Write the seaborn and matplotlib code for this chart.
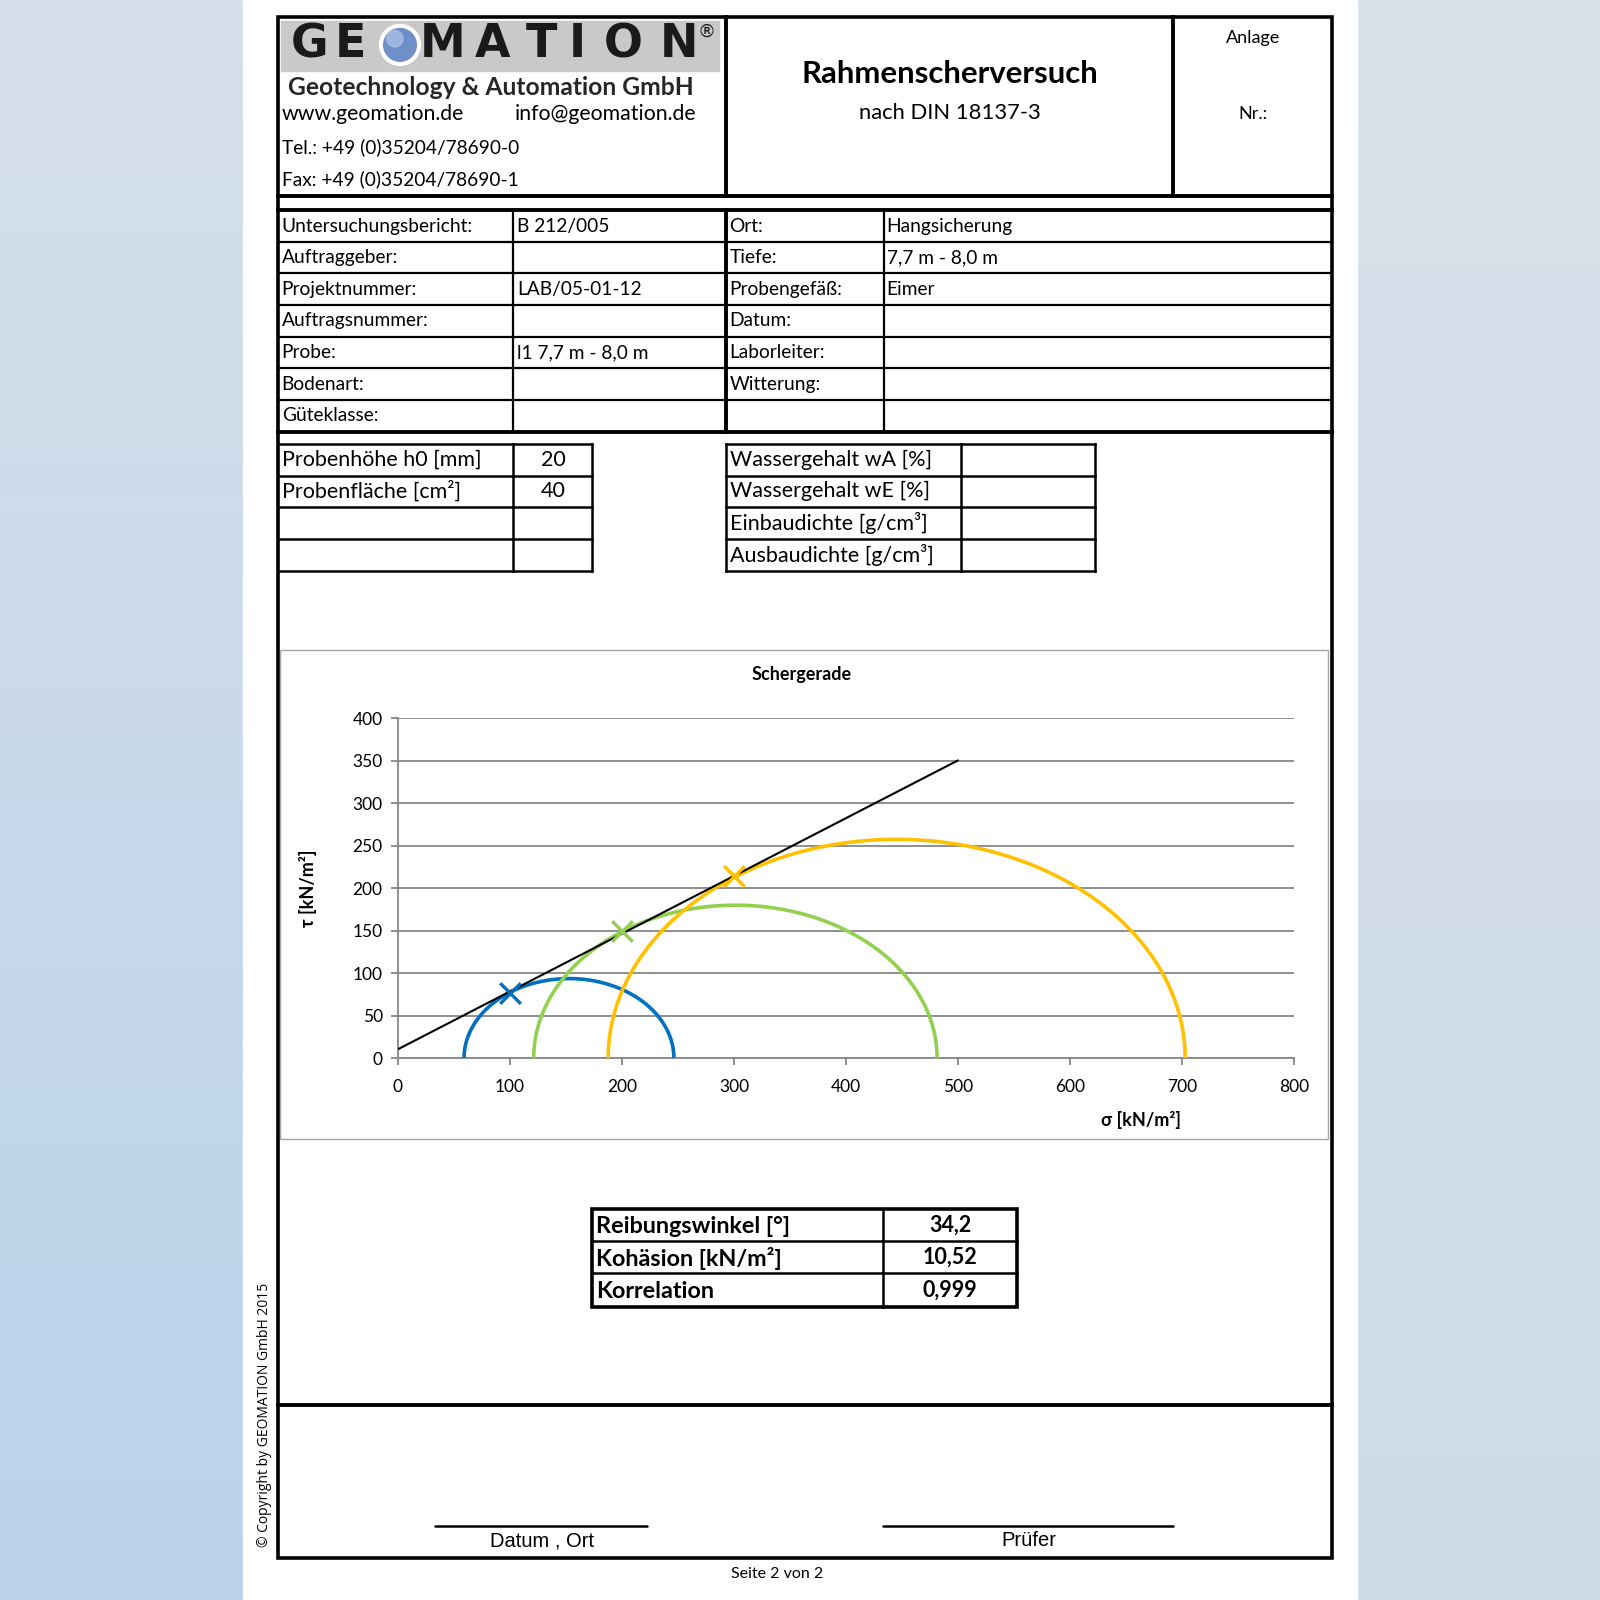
import numpy as np
import pandas as pd
import matplotlib
matplotlib.use("Agg")
import matplotlib.pyplot as plt
from matplotlib.patches import Rectangle, Circle
import seaborn as sns

# ---------------- data ----------------
probe_names = ["Probe 1", "Probe 2", "Probe 3"]
circle_colors = ["#0070C0", "#92D050", "#FFC000"]
circle_centers = [152.7, 301.3, 445.3]     # sigma centre of Mohr circles [kN/m²]
circle_radii = [93.7, 180.1, 257.6]        # radii [kN/m²]
fail_sigma = [100, 200, 300]               # normal stress at failure
fail_tau = [77, 150, 214]                  # shear stress at failure
line_sigma = [0, 500]                      # Schergerade
line_tau = [10.5, 350.5]
x_ticks = [0, 100, 200, 300, 400, 500, 600, 700, 800]
y_ticks = [0, 50, 100, 150, 200, 250, 300, 350, 400]

info_left_labels = ["Untersuchungsbericht:", "Auftraggeber:", "Projektnummer:", "Auftragsnummer:",
                    "Probe:", "Bodenart:", "Güteklasse:"]
info_left_values = ["B 212/005", "", "LAB/05-01-12", "", "l1 7,7 m - 8,0 m", "", ""]
info_right_labels = ["Ort:", "Tiefe:", "Probengefäß:", "Datum:", "Laborleiter:", "Witterung:", ""]
info_right_values = ["Hangsicherung", "7,7 m - 8,0 m", "Eimer", "", "", "", ""]
sample_labels = ["Probenhöhe h0 [mm]", "Probenfläche [cm²]", "", ""]
sample_values = ["20", "40", "", ""]
water_labels = ["Wassergehalt wA [%]", "Wassergehalt wE [%]", "Einbaudichte [g/cm³]", "Ausbaudichte [g/cm³]"]
result_labels = ["Reibungswinkel [°]", "Kohäsion [kN/m²]", "Korrelation"]
result_values = ["34,2", "10,52", "0,999"]

# ---------------- setup ----------------
sns.set_theme(style="white")
plt.rcParams["font.family"] = ["Lato", "DejaVu Sans"]

W = 1568.0
fig = plt.figure(figsize=(16, 16), dpi=100)
bg = fig.add_axes([0, 0, 1, 1])
bg.set_xlim(0, W)
bg.set_ylim(W, 0)
bg.axis("off")

# background panels (gradients)
def grad(x0, x1, c_top, c_bot):
    t = np.linspace(0, 1, 256)[:, None]
    c0 = np.array(matplotlib.colors.to_rgb(c_top))
    c1 = np.array(matplotlib.colors.to_rgb(c_bot))
    img = (1 - t)[..., None] * c0 + t[..., None] * c1
    img = np.repeat(img, 2, axis=1)
    bg.imshow(img, extent=[x0, x1, W, 0], aspect="auto", zorder=0)

grad(0, 238, "#d6e0ea", "#bad2ea")
grad(1330, W, "#d9e1ea", "#cddbe8")
bg.add_patch(Rectangle((238, 0), 1330 - 238, W, color="white", zorder=0.5))
bg.set_xlim(0, W)
bg.set_ylim(W, 0)

def hl(y, x0, x1, lw=1.6):
    bg.plot([x0, x1], [y, y], color="black", lw=lw, solid_capstyle="projecting", zorder=3)

def vl(x, y0, y1, lw=1.6):
    bg.plot([x, x], [y0, y1], color="black", lw=lw, solid_capstyle="projecting", zorder=3)

def tx(x, y, s, size, ha="left", weight="normal", family=None, color="black", **kw):
    k = dict(fontsize=size, ha=ha, va="center", weight=weight, color=color, zorder=4)
    if family is not None:
        k["family"] = family
    k.update(kw)
    bg.text(x, y, s, **k)

# ---------------- outer frame ----------------
L, R, TOP, BOT = 272, 1305, 17, 1527
bg.add_patch(Rectangle((L, TOP), R - L, BOT - TOP, fill=False, lw=2.6, ec="black", zorder=3))

# header
vl(711, TOP, 192, 2.8)
vl(1150, TOP, 192, 2.8)
hl(192, L, R, 2.8)
hl(206, L, R, 2.8)

# logo
bg.add_patch(Rectangle((275, 21), 705 - 275, 70 - 21, color="#c9c9c9", zorder=1))
logo_letters = ["G", "E", "M", "A", "T", "I", "O", "N"]
logo_x = [303, 343, 434, 483, 531, 566, 611, 665]
for ch, xx in zip(logo_letters, logo_x):
    tx(xx, 44, ch, 33, ha="center", weight="bold", family="DejaVu Sans", color="#1a1a1a")
bg.add_patch(Circle((392, 44), 20, color="white", zorder=3.5))
bg.add_patch(Circle((392, 44), 16, color="#6f8fc8", zorder=3.6))
bg.add_patch(Circle((387, 38), 8, color="#a9bfe4", zorder=3.7, alpha=0.8))
tx(692, 31, "®", 13, ha="center", family="DejaVu Sans", color="#1a1a1a")
tx(282, 86, "Geotechnology & Automation GmbH", 17.7, weight="bold", color="#262626")
tx(276, 112, "www.geomation.de", 15.3)
tx(504, 112, "info@geomation.de", 15.3)
tx(276, 144, "Tel.: +49 (0)35204/78690-0", 13.8)
tx(276, 176, "Fax: +49 (0)35204/78690-1", 13.8)

tx(931, 73, "Rahmenscherversuch", 22.4, ha="center", weight="bold")
tx(931, 111, "nach DIN 18137-3", 15.8, ha="center")
tx(1228, 37, "Anlage", 13, ha="center")
tx(1228, 112, "Nr.:", 13, ha="center")

# ---------------- info table ----------------
rows = [206, 237, 268, 299, 330, 361, 392, 423]
for y in rows[1:-1]:
    hl(y, L, R, 1.6)
hl(423, L, R, 2.8)
vl(503, 206, 423, 1.6)
vl(711, 206, 423, 2.8)
vl(866, 206, 423, 1.6)
for i in range(7):
    yc = (rows[i] + rows[i + 1]) / 2
    tx(276, yc, info_left_labels[i], 13.8)
    tx(507, yc, info_left_values[i], 13.8)
    tx(715, yc, info_right_labels[i], 13.8)
    tx(869, yc, info_right_values[i], 13.8)

# sample tables
srows = [435, 466, 497, 528, 560]
for y in srows:
    hl(y, L, 580, 1.8)
    hl(y, 711, 1073, 1.8)
vl(503, 435, 560, 1.8)
vl(580, 435, 560, 1.8)
vl(711, 435, 560, 1.8)
vl(942, 435, 560, 1.8)
vl(1073, 435, 560, 1.8)
for i in range(4):
    yc = (srows[i] + srows[i + 1]) / 2
    tx(276, yc, sample_labels[i], 15.5)
    tx(542, yc, sample_values[i], 15.5, ha="center")
    tx(715, yc, water_labels[i], 15.5)

# ---------------- chart ----------------
bg.add_patch(Rectangle((274, 637), 1301 - 274, 1116 - 637, fill=False, lw=1.0, ec="#a6a6a6", zorder=2))
tx(786, 661, "Schergerade", 13, ha="center", weight="bold")

ax = fig.add_axes([390 / W, 1 - 1037 / W, (1268 - 390) / W, (1037 - 704) / W])
ax.set_facecolor("none")
ax.set_xlim(0, 800)
ax.set_ylim(0, 400)
ax.set_xticks(x_ticks)
ax.set_yticks(y_ticks)
ax.grid(axis="y", color="#878787", lw=1.3)
ax.grid(axis="x", visible=False)
ax.set_axisbelow(True)
for s in ["top", "right"]:
    ax.spines[s].set_visible(False)
for s in ["left", "bottom"]:
    ax.spines[s].set_color("#878787")
    ax.spines[s].set_linewidth(1.3)
ax.tick_params(axis="both", which="both", direction="out", length=5, width=1.3, color="#878787",
               labelsize=12.5, labelcolor="black", left=True, bottom=True)
ax.tick_params(axis="x", pad=10)
ax.tick_params(axis="y", pad=6)

theta = np.linspace(0, np.pi, 300)
recs = []
for name, c, r in zip(probe_names, circle_centers, circle_radii):
    for th in theta:
        recs.append({"probe": name, "sigma": c + r * np.cos(th), "tau": r * np.sin(th)})
circ_df = pd.DataFrame(recs)
sns.lineplot(data=circ_df, x="sigma", y="tau", hue="probe", palette=circle_colors,
             sort=False, estimator=None, legend=False, lw=2.6, ax=ax, zorder=3)
sns.lineplot(x=line_sigma, y=line_tau, color="black", lw=1.5, ax=ax, zorder=4)
for xs, ys, c in zip(fail_sigma, fail_tau, circle_colors):
    sns.scatterplot(x=[xs], y=[ys], marker="x", s=220, linewidth=2.4, color=c, ax=ax, zorder=5)
ax.set_xlim(0, 800)
ax.set_ylim(0, 400)
ax.set_xlabel("")
ax.set_ylabel("")

tx(1118, 1098, "σ [kN/m²]", 13, ha="center", weight="bold")
tx(302, 870, "τ [kN/m²]", 13, ha="center", weight="bold", rotation=90)

# ---------------- results table ----------------
rrows = [1185, 1216, 1248, 1281]
bg.add_patch(Rectangle((580, 1185), 997 - 580, 1281 - 1185, fill=False, lw=2.6, ec="black", zorder=3))
hl(1216, 580, 997, 1.8)
hl(1248, 580, 997, 1.8)
vl(865, 1185, 1281, 1.8)
for i in range(3):
    yc = (rrows[i] + rrows[i + 1]) / 2
    tx(584, yc + 1, result_labels[i], 16.8, weight="bold")
    tx(931, yc, result_values[i], 15.5, ha="center", weight="bold")

# ---------------- signatures ----------------
hl(1377, L, R, 2.8)
bg.plot([426, 634], [1495, 1495], color="black", lw=1.8, zorder=3)
bg.plot([865, 1150], [1495, 1495], color="black", lw=1.8, zorder=3)
tx(531, 1510, "Datum , Ort", 14.5, ha="center", family=["Liberation Sans", "DejaVu Sans"])
tx(1008, 1510, "Prüfer", 14.5, ha="center", family=["Liberation Sans", "DejaVu Sans"])
tx(762, 1543, "Seite 2 von 2", 11.5, ha="center")
tx(259, 1387, "© Copyright by GEOMATION GmbH 2015", 10, ha="center", rotation=90,
   family=["Open Sans", "DejaVu Sans"])

fig.savefig("out.png", dpi=100)
